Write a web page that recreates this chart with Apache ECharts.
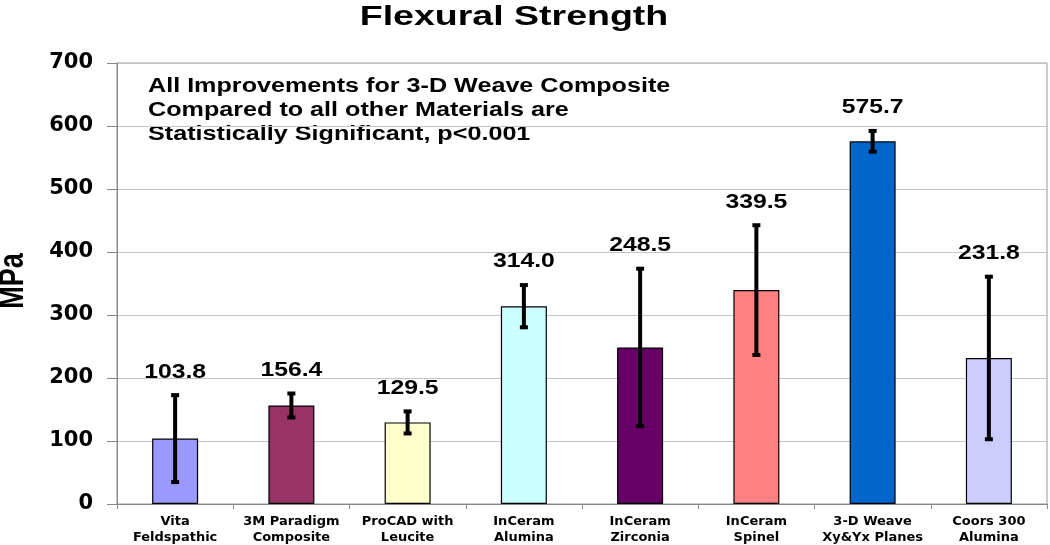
<!DOCTYPE html>
<html>
<head>
<meta charset="utf-8">
<script src="https://cdn.jsdelivr.net/npm/echarts@6/dist/echarts.min.js"></script>
<style>
  html, body { margin: 0; padding: 0; background: #fff; }
  #chart { width: 1050px; height: 545px; }
</style>
</head>
<body>
<div id="chart"></div>
<script>
// 各材料弯曲强度 (MPa)，均值 ± 标准差
const categories = [
  'Vita\nFeldspathic', '3M Paradigm\nComposite', 'ProCAD with\nLeucite', 'InCeram\nAlumina',
  'InCeram\nZirconia', 'InCeram\nSpinel', '3-D Weave\nXy&Yx Planes', 'Coors 300\nAlumina'
];
const means = [103.8, 156.4, 129.5, 314.0, 248.5, 339.5, 575.7, 231.8];
const sds = [69, 19, 17.5, 33.5, 125, 103, 16.5, 129];
const barColors = ['#9999FF', '#993366', '#FFFFCC', '#CCFFFF', '#660066', '#FF8080', '#0066CC', '#CCCCFF'];
const noteLines = [
  'All Improvements for 3-D Weave Composite',
  'Compared to all other Materials are',
  'Statistically Significant, p<0.001'
];

const ARIAL = "'Liberation Sans', Arial, sans-serif";
const WIDE = "'DejaVu Sans', Verdana, sans-serif";

const chart = echarts.init(document.getElementById('chart'));

const errData = means.map((m, i) => [i, m, sds[i]]);

function renderErr(params, api) {
  const i = api.value(0);
  const m = api.value(1);
  const sd = api.value(2);
  const top = api.coord([i, m + sd]);
  const bot = api.coord([i, m - sd]);
  const cap = 4;
  const line = { stroke: '#000', lineWidth: 4 };
  return {
    type: 'group',
    children: [
      { type: 'line', shape: { x1: top[0], y1: top[1], x2: bot[0], y2: bot[1] }, style: line },
      { type: 'line', shape: { x1: top[0] - cap, y1: top[1], x2: top[0] + cap, y2: top[1] }, style: line },
      { type: 'line', shape: { x1: bot[0] - cap, y1: bot[1], x2: bot[0] + cap, y2: bot[1] }, style: line },
      {
        type: 'text', x: top[0], y: top[1] - 23, scaleX: 1.27,
        style: {
          text: m.toFixed(1), fill: '#000',
          font: 'bold 19.5px ' + ARIAL,
          textAlign: 'center', textVerticalAlign: 'middle'
        }
      }
    ]
  };
}

chart.setOption({
  animation: false,
  grid: {
    left: 117, right: 3, top: 63, bottom: 41,
    outerBoundsMode: 'none', containLabel: false,
    show: true, borderColor: '#999', borderWidth: 1
  },
  xAxis: {
    type: 'category',
    data: categories,
    axisLine: { lineStyle: { color: '#888', width: 1 } },
    axisTick: { show: true, length: 5, lineStyle: { color: '#888' } },
    axisLabel: {
      interval: 0, margin: 10, color: '#000',
      fontFamily: WIDE, fontWeight: 'bold', fontSize: 13, lineHeight: 16
    }
  },
  yAxis: {
    type: 'value',
    min: 0, max: 700, interval: 100,
    axisLine: { show: true, lineStyle: { color: '#888', width: 1 } },
    axisTick: { show: true, length: 10, lineStyle: { color: '#888' } },
    axisLabel: {
      margin: 24, color: '#000',
      fontFamily: WIDE, fontWeight: 'bold', fontSize: 21
    },
    splitLine: { lineStyle: { color: '#c4c4c4', width: 1 } }
  },
  graphic: [
    {
      type: 'text', x: 514, y: 17, scaleX: 1.34,
      style: {
        text: 'Flexural Strength', fill: '#000',
        font: 'bold 28px ' + ARIAL,
        textAlign: 'center', textVerticalAlign: 'middle'
      }
    },
    {
      type: 'text', x: 13, y: 281, rotation: Math.PI / 2, scaleY: 1.3,
      style: {
        text: 'MPa', fill: '#000',
        font: 'bold 27px ' + ARIAL,
        textAlign: 'center', textVerticalAlign: 'middle'
      }
    },
    ...noteLines.map((t, k) => ({
      type: 'text', x: 148, y: 87 + k * 24, scaleX: 1.29,
      style: {
        text: t, fill: '#000',
        font: 'bold 19.5px ' + ARIAL,
        textAlign: 'left', textVerticalAlign: 'middle'
      }
    }))
  ],
  series: [
    {
      type: 'bar',
      barWidth: 46,
      data: means.map((v, i) => ({
        value: v,
        itemStyle: { color: barColors[i], borderColor: '#000', borderWidth: 1.2 }
      })),
      z: 2
    },
    {
      type: 'custom',
      renderItem: renderErr,
      data: errData,
      z: 5
    }
  ]
});
</script>
</body>
</html>
